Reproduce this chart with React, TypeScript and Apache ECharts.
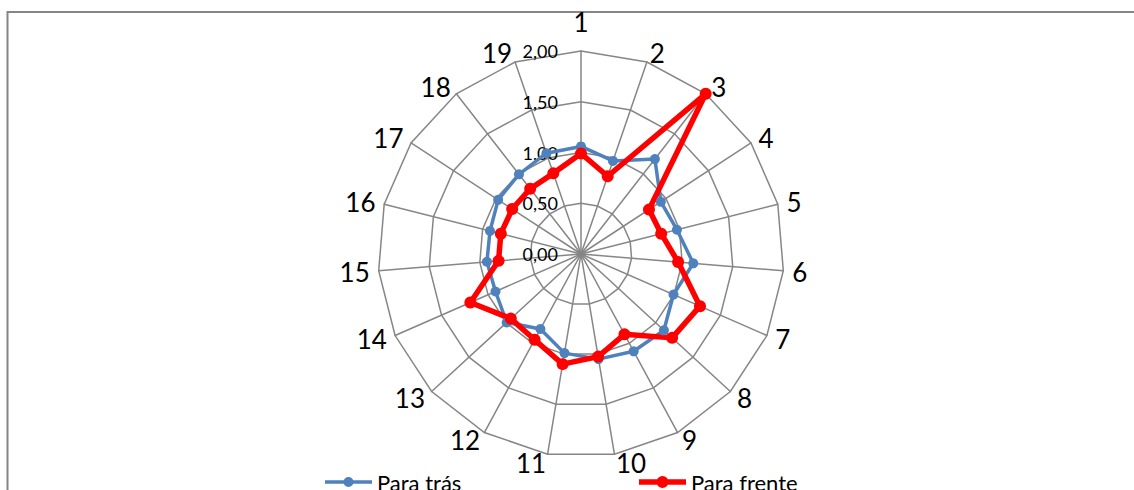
import React, { useEffect, useRef } from "react";
import * as echarts from "echarts";

// Categories (clockwise from the top, as in the reference)
const categories = ["1", "2", "3", "4", "5", "6", "7", "8", "9", "10", "11", "12", "13", "14", "15", "16", "17", "18", "19"];

// Series values
const paraTras = [1.06, 0.97, 1.185, 0.94, 0.975, 1.11, 0.995, 1.11, 1.09, 1.05, 0.99, 0.84, 0.995, 0.92, 0.93, 0.925, 0.975, 0.995, 1.05];
const paraFrente = [0.99, 0.81, 2.0, 0.8, 0.815, 0.96, 1.28, 1.22, 0.9, 1.025, 1.1, 0.96, 0.94, 1.19, 0.815, 0.815, 0.81, 0.815, 0.84];

const seriesNames = ["Para trás", "Para frente"];

// Radial axis
const axisMin = 0;
const axisMax = 2;
const axisSplits = 4;

const FONT = "Lato, 'Open Sans', sans-serif";
const GRID = "#868686";
const BLUE = "#4F81BD";
const RED = "#FF0000";

// ECharts radar runs counter-clockwise; reorder so the picture runs clockwise
const order = [0, ...categories.map((_, i) => i).slice(1).reverse()];
const reorder = <T,>(arr: T[]) => order.map((i) => arr[i]);

const fmt = (v: number) => v.toFixed(2).replace(".", ",");

export default function App() {
  const ref = useRef<HTMLDivElement>(null);

  useEffect(() => {
    document.body.style.margin = "0";
    if (!ref.current) return;
    const chart = echarts.init(ref.current, undefined, { renderer: "svg" });

    const labelStyle = {
      color: "#000",
      fontSize: 18,
      fontFamily: FONT,
      margin: 23,
      formatter: (v: number) => `{v|${fmt(v)}}`,
      rich: { v: { fontSize: 18, fontFamily: FONT, color: "#000" } },
    };

    const indicator = reorder(categories).map((name, i) => {
      const base: any = { name, min: axisMin, max: axisMax };
      base.axisLabel = { ...labelStyle, show: i === 0 };
      return base;
    });

    const legendText = { fontSize: 22, fontFamily: FONT, color: "#000", lineHeight: 24 };

    chart.setOption({
      animation: false,
      backgroundColor: "#fff",
      textStyle: { fontFamily: FONT, color: "#000" },
      graphic: [
        {
          type: "rect",
          silent: true,
          z: -10,
          shape: { x: 7.5, y: 12, width: 1400, height: 800 },
          style: { fill: "none", stroke: GRID, lineWidth: 2 },
        },
      ],
      legend: [
        {
          data: [
            {
              name: seriesNames[0],
              icon: "path://M0,3.25H47V6.75H0Z M18.5,5A5,5 0 1,1 28.5,5A5,5 0 1,1 18.5,5Z",
            },
          ],
          left: 325,
          top: 470,
          padding: 0,
          itemWidth: 47,
          itemHeight: 10,
          itemGap: 0,
          selectedMode: false,
          textStyle: legendText,
        },
        {
          data: [
            {
              name: seriesNames[1],
              icon: "path://M0,3.25H47V8.75H0Z M17.5,6A6,6 0 1,1 29.5,6A6,6 0 1,1 17.5,6Z",
            },
          ],
          left: 639,
          top: 470,
          padding: 0,
          itemWidth: 47,
          itemHeight: 12,
          itemGap: 0,
          selectedMode: false,
          textStyle: legendText,
        },
      ],
      radar: {
        center: [581, 254],
        radius: 203,
        startAngle: 90,
        shape: "polygon",
        splitNumber: axisSplits,
        indicator,
        nameGap: 9,
        axisName: {
          color: "#000",
          fontSize: 26,
          fontFamily: FONT,
          formatter: (name: string) => (name === categories[0] ? `{top|${name}}` : name),
          rich: {
            top: { fontSize: 26, fontFamily: FONT, color: "#000", padding: [0, 0, 7, 0] },
          },
        },
        axisLine: { lineStyle: { color: GRID, width: 1.5 } },
        splitLine: { lineStyle: { color: GRID, width: 1.5 } },
        splitArea: { show: false },
        axisTick: { show: false },
        axisLabel: { ...labelStyle, show: false },
      },
      series: [
        {
          type: "radar",
          name: seriesNames[0],
          symbol: "circle",
          symbolSize: 10,
          lineStyle: { color: BLUE, width: 3.5 },
          itemStyle: { color: BLUE },
          data: [{ name: seriesNames[0], value: reorder(paraTras) }],
        },
        {
          type: "radar",
          name: seriesNames[1],
          symbol: "circle",
          symbolSize: 12,
          lineStyle: { color: RED, width: 5.5 },
          itemStyle: { color: RED },
          data: [{ name: seriesNames[1], value: reorder(paraFrente) }],
        },
      ],
    });

    return () => chart.dispose();
  }, []);

  return <div ref={ref} style={{ width: 1134, height: 490 }} />;
}
